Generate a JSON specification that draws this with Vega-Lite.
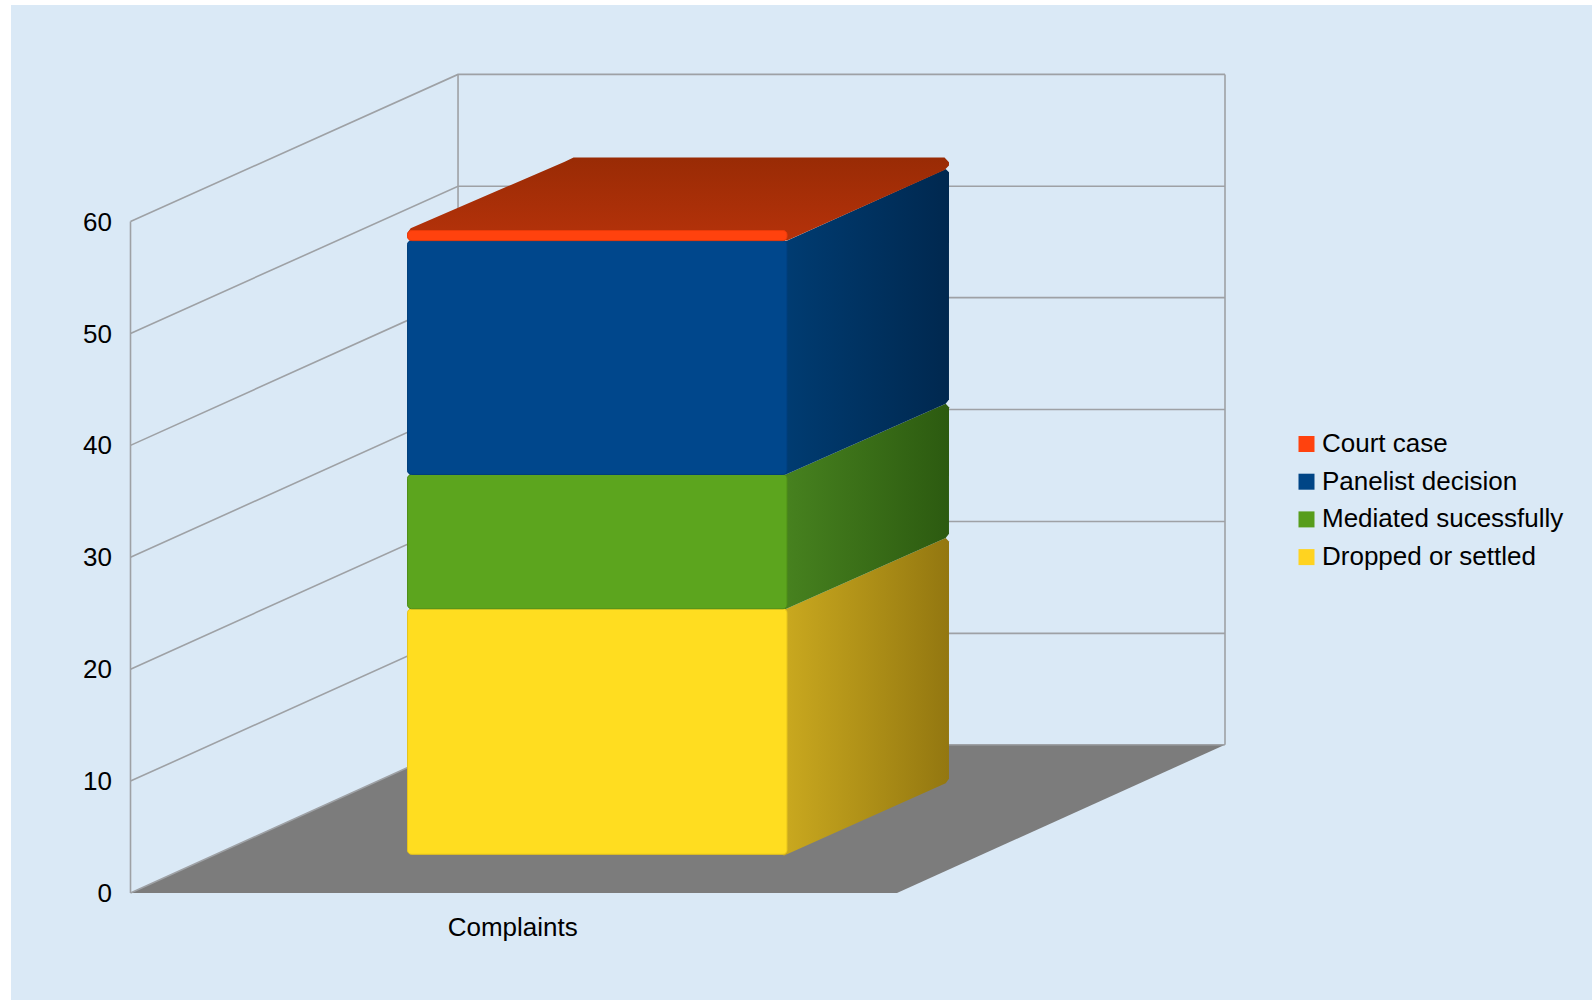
{"$schema":"https://vega.github.io/schema/vega-lite/v6.json","width":1094.5,"height":819.7,"autosize":{"type":"none"},"padding":{"left":130.5,"top":73.3,"right":367,"bottom":107},"background":"#ffffff","view":{"stroke":null},"config":{"font":"Liberation Sans"},
"datasets":{
"panel":[{"x":-0.1559,"x2":1.9067,"y":79.36,"y2":-9.56}],
"floor":[{"x":0,"y":0,"y2":0},{"x":0.4273,"y":13.25,"y2":0},{"x":1,"y":13.25,"y2":0},{"x":1.4279,"y":13.25,"y2":13.25}],
"wall":[
{"line":"g0","x":0,"y":0},{"line":"g0","x":0.4273,"y":13.25},{"line":"g0","x":1.4279,"y":13.25},
{"line":"g10","x":0,"y":10},{"line":"g10","x":0.4273,"y":23.2},{"line":"g10","x":1.4279,"y":23.2},
{"line":"g20","x":0,"y":20},{"line":"g20","x":0.4273,"y":33.2},{"line":"g20","x":1.4279,"y":33.2},
{"line":"g30","x":0,"y":30},{"line":"g30","x":0.4273,"y":43.2},{"line":"g30","x":1.4279,"y":43.2},
{"line":"g40","x":0,"y":40},{"line":"g40","x":0.4273,"y":53.2},{"line":"g40","x":1.4279,"y":53.2},
{"line":"g50","x":0,"y":50},{"line":"g50","x":0.4273,"y":63.15},{"line":"g50","x":1.4279,"y":63.15},
{"line":"g60","x":0,"y":60},{"line":"g60","x":0.4273,"y":73.15},{"line":"g60","x":1.4279,"y":73.15},
{"line":"left","x":0,"y":0},{"line":"left","x":0,"y":60},
{"line":"back","x":0.4273,"y":13.25},{"line":"back","x":0.4273,"y":73.15},
{"line":"right","x":1.4279,"y":13.25},{"line":"right","x":1.4279,"y":73.15}],
"front":[
{"series":"Dropped or settled","value":22,"x":0.3614,"x2":0.8565,"y":3.46,"y2":25.4},
{"series":"Mediated sucessfully","value":12,"x":0.3614,"x2":0.8565,"y":25.4,"y2":37.4},
{"series":"Panelist decision","value":21,"x":0.3614,"x2":0.8565,"y":37.4,"y2":58.3},
{"series":"Court case","value":1,"x":0.3614,"x2":0.8565,"y":58.3,"y2":59.2}],
"sides":[
{"series":"Dropped or settled","x":0.852,"y":25.3,"y2":3.32},{"series":"Dropped or settled","x":1.0635,"y":31.72,"y2":9.81},{"series":"Dropped or settled","x":1.0678,"y":31.4,"y2":10.2},
{"series":"Mediated sucessfully","x":0.852,"y":37.3,"y2":25.3},{"series":"Mediated sucessfully","x":1.0635,"y":43.72,"y2":31.72},{"series":"Mediated sucessfully","x":1.0678,"y":43.4,"y2":32.1},
{"series":"Panelist decision","x":0.852,"y":58.16,"y2":37.3},{"series":"Panelist decision","x":1.0635,"y":64.7,"y2":43.72},{"series":"Panelist decision","x":1.0678,"y":64.4,"y2":44.1}],
"top":[{"x":0.3614,"y":59.0,"y2":58.6},{"x":0.3655,"y":59.4,"y2":58.6},{"x":0.5665,"y":65.35,"y2":58.6},{"x":0.578,"y":65.72,"y2":58.6},{"x":0.8565,"y":65.72,"y2":58.3},{"x":1.062,"y":65.72,"y2":64.6},{"x":1.0678,"y":65.3,"y2":65.0}]
},
"encoding":{
"x":{"field":"x","type":"quantitative","title":null,"scale":{"domain":[0,1.4279],"nice":false,"zero":false},"axis":{"values":[0.498],"labelExpr":"'Complaints'","domain":false,"ticks":false,"grid":false,"labelFontSize":26,"labelColor":"#000000","labelPadding":21,"labelFlush":false,"zindex":1}},
"y":{"field":"y","type":"quantitative","title":null,"scale":{"domain":[0,73.25],"nice":false,"zero":false},"axis":{"values":[0,10,20,30,40,50,60],"domain":false,"ticks":false,"grid":false,"labelFontSize":26,"labelColor":"#000000","labelPadding":19,"labelFlush":false,"labelOffset":0.6,"zindex":1}}
},
"layer":[
{"data":{"name":"panel"},"mark":{"type":"rect","fill":"#dae9f6"},"encoding":{"x2":{"field":"x2"},"y2":{"field":"y2"}}},
{"data":{"name":"floor"},"mark":{"type":"area","fill":"#7c7c7c","opacity":1},"encoding":{"y2":{"field":"y2"}}},
{"data":{"name":"wall"},"mark":{"type":"line","stroke":"#9ea1a5","strokeWidth":1.6},"encoding":{"detail":{"field":"line"}}},
{"data":{"name":"sides"},"transform":[{"filter":"datum.series==='Dropped or settled'"}],"mark":{"type":"area","opacity":1,"fill":{"gradient":"linear","x1":0,"y1":0,"x2":1,"y2":0,"stops":[{"offset":0,"color":"#caa91f"},{"offset":1,"color":"#937710"}]}},"encoding":{"y2":{"field":"y2"}}},
{"data":{"name":"sides"},"transform":[{"filter":"datum.series==='Mediated sucessfully'"}],"mark":{"type":"area","opacity":1,"fill":{"gradient":"linear","x1":0,"y1":0,"x2":1,"y2":0,"stops":[{"offset":0,"color":"#47821f"},{"offset":1,"color":"#2c5a10"}]}},"encoding":{"y2":{"field":"y2"}}},
{"data":{"name":"sides"},"transform":[{"filter":"datum.series==='Panelist decision'"}],"mark":{"type":"area","opacity":1,"fill":{"gradient":"linear","x1":0,"y1":0,"x2":1,"y2":0,"stops":[{"offset":0,"color":"#003c72"},{"offset":1,"color":"#00284f"}]}},"encoding":{"y2":{"field":"y2"}}},
{"data":{"name":"top"},"mark":{"type":"area","opacity":1,"fill":{"gradient":"linear","x1":0,"y1":1,"x2":0,"y2":0,"stops":[{"offset":0,"color":"#b5320a"},{"offset":1,"color":"#992b05"}]}},"encoding":{"y2":{"field":"y2"}}},
{"data":{"name":"front"},"mark":{"type":"rect","cornerRadius":4},"encoding":{"x2":{"field":"x2"},"y2":{"field":"y2"},"color":{"field":"series","type":"nominal","scale":{"domain":["Court case","Panelist decision","Mediated sucessfully","Dropped or settled"],"range":["#ff420e","#004586","#579d1c","#ffd320"]},"legend":{"title":null,"orient":"none","legendX":1163,"legendY":357.7,"padding":0,"symbolType":"square","symbolSize":256,"symbolStrokeWidth":0,"labelFontSize":26,"labelColor":"#000000","labelOffset":2.5,"rowPadding":11.7,"labelLimit":400}}}},
{"data":{"name":"front"},"mark":{"type":"rect","cornerRadius":4,"strokeWidth":1},"encoding":{"x2":{"field":"x2"},"y2":{"field":"y2"},"fill":{"field":"series","type":"nominal","legend":null,"scale":{"domain":["Court case","Panelist decision","Mediated sucessfully","Dropped or settled"],"range":["#ff420e","#00478c","#5ca51e","#ffdd20"]}},"stroke":{"field":"series","type":"nominal","legend":null,"scale":{"domain":["Court case","Panelist decision","Mediated sucessfully","Dropped or settled"],"range":["#e83a0a","#003f7c","#4f8f18","#e6c41c"]}}}}
]}
